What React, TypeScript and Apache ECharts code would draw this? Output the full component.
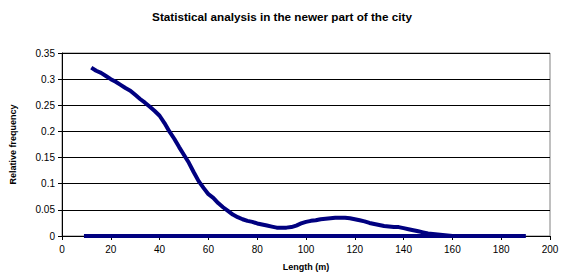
import React, { useEffect, useRef } from "react";
import * as echarts from "echarts";

const lengths = [12, 14, 16, 18, 20, 22, 24, 26, 28, 30, 32, 34, 36, 38, 40, 42, 44, 46, 48, 50, 52, 54, 56, 58, 60, 62, 64, 66, 68, 70, 72, 74, 76, 78, 80, 82, 84, 86, 88, 90, 92, 94, 96, 98, 100, 102, 104, 106, 108, 110, 112, 114, 116, 118, 120, 122, 124, 126, 128, 130, 132, 134, 136, 138, 140, 142, 144, 146, 148, 150, 152, 154, 156, 158, 160, 162, 164, 166, 168, 170, 172, 174, 176, 178, 180, 182, 184, 186, 188, 190];
const frequency = [0.322, 0.316, 0.312, 0.306, 0.3, 0.295, 0.289, 0.283, 0.278, 0.27, 0.262, 0.255, 0.247, 0.239, 0.23, 0.216, 0.2, 0.186, 0.17, 0.155, 0.14, 0.122, 0.105, 0.092, 0.08, 0.073, 0.063, 0.055, 0.048, 0.041, 0.036, 0.032, 0.029, 0.027, 0.024, 0.022, 0.02, 0.018, 0.016, 0.016, 0.016, 0.017, 0.02, 0.024, 0.027, 0.029, 0.03, 0.032, 0.033, 0.034, 0.035, 0.035, 0.035, 0.034, 0.032, 0.03, 0.028, 0.025, 0.023, 0.021, 0.019, 0.018, 0.017, 0.017, 0.015, 0.013, 0.011, 0.009, 0.007, 0.005, 0.004, 0.003, 0.002, 0.001, 0, -0.001, -0.001, -0.002, -0.002, -0.002, -0.002, -0.002, -0.002, -0.001, -0.001, -0.001, 0, 0, 0, 0];
const baselineX = [9, 190];
const baselineY = [0, 0];

const title = "Statistical analysis in the newer part of the city";
const xName = "Length (m)";
const yName = "Relative frequency";

export default function App() {
  const ref = useRef<HTMLDivElement>(null);
  useEffect(() => {
    if (!ref.current) return;
    const chart = echarts.init(ref.current, null, { renderer: "svg" });
    const font = "'Liberation Sans', Arial, sans-serif";
    chart.setOption({
      animation: false,
      backgroundColor: "#ffffff",
      title: {
        text: title,
        left: "center",
        top: 5,
        textStyle: { fontFamily: font, fontSize: 11.7, fontWeight: "bold", color: "#000" },
      },
      grid: {
        left: 61,
        right: 14,
        top: 53,
        bottom: 44,
        show: true,
        borderColor: "#808080",
        borderWidth: 1,
        backgroundColor: "transparent",
      },
      xAxis: {
        type: "value",
        min: 0,
        max: 200,
        interval: 20,
        name: xName,
        nameLocation: "middle",
        nameGap: 26,
        nameTextStyle: { fontFamily: font, fontSize: 9, fontWeight: "bold", color: "#000" },
        axisLine: { show: true, onZero: false, lineStyle: { color: "#000", width: 1 } },
        axisTick: { show: true, length: 4, lineStyle: { color: "#000" } },
        axisLabel: { fontFamily: font, fontSize: 10, color: "#000", margin: 8, showMaxLabel: true },
        splitLine: { show: false },
      },
      yAxis: {
        type: "value",
        min: 0,
        max: 0.35,
        interval: 0.05,
        name: yName,
        nameLocation: "middle",
        nameGap: 45,
        nameRotate: 90,
        nameTextStyle: { fontFamily: font, fontSize: 9, fontWeight: "bold", color: "#000" },
        axisLine: { show: true, lineStyle: { color: "#000", width: 1 } },
        axisTick: { show: true, length: 4, lineStyle: { color: "#000" } },
        axisLabel: {
          fontFamily: font,
          fontSize: 10,
          color: "#000",
          margin: 7,
          formatter: (v: number) => String(Math.round(v * 100) / 100),
        },
        splitLine: { show: true, lineStyle: { color: "#000", width: 1 } },
      },
      series: [
        {
          type: "line",
          data: baselineX.map((x, i) => [x, baselineY[i]]),
          showSymbol: false,
          lineStyle: { color: "#000080", width: 4 },
          z: 3,
        },
        {
          type: "line",
          data: lengths.map((x, i) => [x, frequency[i]]),
          showSymbol: false,
          lineStyle: { color: "#000080", width: 4 },
          z: 4,
        },
      ],
    });
    return () => chart.dispose();
  }, []);
  return (
    <div
      ref={ref}
      style={{ position: "fixed", left: 0, top: 0, width: 564, height: 280 }}
    />
  );
}
